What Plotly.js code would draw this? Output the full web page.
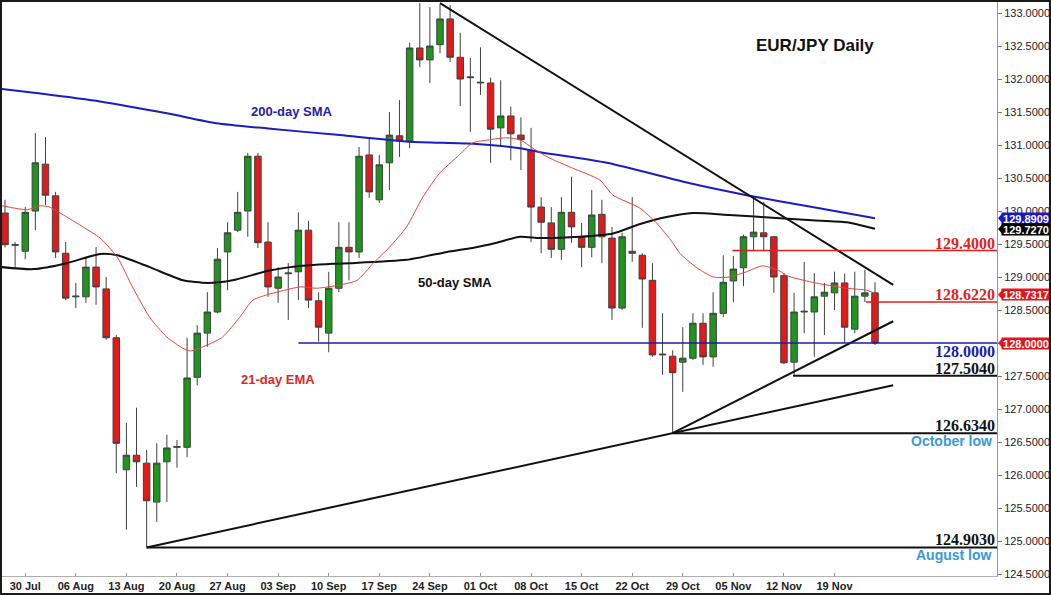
<!DOCTYPE html>
<html><head><meta charset="utf-8">
<script src="https://cdn.plot.ly/plotly-3.0.1.min.js"></script>
<style>
html,body{margin:0;padding:0;background:#fff;}
#chart{width:1047px;height:591px;border:2px solid #1a1a1a;}
</style></head><body><div id="chart"></div>
<script>
// ---- data ----
const dateLabels = ['30 Jul','06 Aug','13 Aug','20 Aug','27 Aug','03 Sep','10 Sep','17 Sep','24 Sep','01 Oct','08 Oct','15 Oct','22 Oct','29 Oct','05 Nov','12 Nov','19 Nov'];
const tickIdx = [2,7,12,17,22,27,32,37,42,47,52,57,62,67,72,77,82];
const yTicks = [124.5,125,125.5,126,126.5,127,127.5,128,128.5,129,129.5,130,130.5,131,131.5,132,132.5,133];

const open  = [129.97,129.48,129.39,130.00,130.71,130.23,129.36,128.70,128.70,129.15,128.82,128.08,126.08,126.30,126.18,125.59,126.20,126.42,126.42,127.48,128.15,128.47,129.38,129.71,130.00,130.83,129.53,128.83,129.05,129.08,129.71,128.64,128.15,128.83,129.45,129.38,130.85,130.17,130.73,131.14,131.05,132.47,132.29,132.52,132.91,132.33,132.02,131.94,131.94,131.26,131.44,131.15,130.92,130.06,129.82,129.42,129.98,129.61,129.45,129.95,129.59,128.53,129.39,129.33,128.95,127.82,127.80,127.71,127.77,128.30,127.79,128.45,128.94,129.14,129.61,129.67,129.61,129.02,127.71,128.47,128.47,128.71,128.76,128.91,128.21,128.71,128.76];
const high  = [130.17,129.53,130.06,131.18,131.12,130.29,129.53,128.91,129.30,129.45,129.00,128.12,126.79,127.02,126.38,126.48,126.61,126.53,128.08,128.27,128.77,129.44,129.83,130.29,130.88,130.88,129.83,129.15,129.21,129.98,129.85,128.77,129.08,129.83,129.83,130.97,131.12,130.85,131.50,131.68,132.55,133.15,133.09,133.13,133.12,132.70,132.32,132.48,132.02,131.98,131.58,131.42,131.26,130.21,130.06,130.21,130.52,129.82,130.32,130.17,129.76,129.67,130.21,129.36,129.21,128.45,127.89,128.24,128.45,128.45,128.77,129.33,129.32,129.64,130.20,130.14,129.62,129.06,128.76,129.23,129.06,128.91,129.08,129.05,129.08,129.11,128.92];
const low   = [129.45,129.15,129.27,129.71,130.09,129.29,128.65,128.53,128.61,128.58,128.05,126.03,125.17,125.82,124.903,125.29,125.59,126.11,126.27,127.36,127.94,128.45,128.80,129.68,129.61,129.44,128.70,128.61,128.35,128.65,128.53,128.02,127.86,128.77,128.95,129.29,130.20,130.12,130.32,130.82,130.95,132.18,131.94,132.39,132.26,131.59,131.20,131.76,130.73,130.97,130.77,130.62,129.53,129.36,129.29,129.26,129.52,129.15,129.30,129.21,128.35,128.50,129.23,128.23,127.79,127.52,126.634,127.26,127.74,127.67,127.64,128.39,128.62,128.86,129.39,129.39,128.76,127.68,127.504,128.15,127.79,128.12,128.50,128.00,128.15,128.62,127.97];
const close = [129.49,129.49,129.98,130.73,130.24,129.38,128.68,128.71,129.15,128.85,128.08,126.48,126.30,126.20,125.61,126.18,126.41,126.43,127.47,128.15,128.47,129.27,129.67,129.98,130.83,129.52,128.85,129.00,129.06,129.71,128.65,128.24,128.83,129.45,129.38,130.83,130.29,130.70,131.15,131.06,132.47,132.29,132.50,132.91,132.33,132.00,132.03,131.95,131.24,131.44,131.17,131.08,130.06,129.83,129.42,129.98,129.76,129.45,129.94,129.61,128.53,129.61,129.36,128.97,127.82,127.83,127.55,127.77,128.30,127.79,128.45,128.92,129.12,129.61,129.68,129.61,129.00,127.70,128.47,128.48,128.70,128.77,128.91,128.24,128.71,128.76,128.00];

const sma200X = [-0.3,3.5,9.4,16,20.9,26,33.1,40,46.3,50.9,52.9,59.5,67.7,73.3,79.8,86];
const sma200  = [131.85,131.78,131.66,131.48,131.33,131.25,131.15,131.05,131.02,130.95,130.89,130.73,130.42,130.24,130.06,129.89];
const sma50X  = [-0.3,2.8,6.1,9.4,11.1,14.3,17.6,20,22.5,25.9,28.2,32.4,34.1,39.7,43.7,46.2,48.6,50.9,52.9,56.8,60.1,62.7,65.4,68,71.6,76.6,79.8,83.2,86];
const sma50   = [129.15,129.12,129.21,129.35,129.33,129.15,128.95,128.91,128.95,129.09,129.15,129.20,129.21,129.26,129.38,129.44,129.52,129.61,129.59,129.61,129.66,129.80,129.91,129.97,129.94,129.89,129.86,129.83,129.73];
const ema21X  = [-0.3,2.2,3.5,4.4,6.1,7.7,9.4,11.1,12.6,14.3,16,17.6,18.3,20,21.5,23.2,24.5,25.9,29.2,30.8,33.1,34.8,36.4,38,39.7,41.3,43,44.7,46.2,47.9,49.6,50.9,52.2,53.6,56.1,58.8,60.1,62.7,64.4,66,66.7,68.4,70,71.6,73.3,74.9,76.6,77.3,79.8,83.2,85.2,86];
const ema21   = [130.08,130.02,130.08,130.06,129.91,129.76,129.59,129.30,128.85,128.39,128.09,127.92,127.88,127.97,128.09,128.39,128.65,128.73,128.85,128.83,128.88,128.95,129.21,129.45,129.76,130.21,130.58,130.82,131.03,131.08,131.11,131.08,130.95,130.82,130.65,130.47,130.24,130.05,129.82,129.52,129.36,129.14,129.00,129.00,129.08,129.17,129.09,129.02,128.92,128.83,128.80,128.75];

// trend lines (start/end in candle index and price)
const trendDownX = [43, 87.8], trendDownY = [133.15, 128.88];
const trendUpLongX = [14, 87.8], trendUpLongY = [124.903, 127.36];
const trendUpShortX = [66, 87.8], trendUpShortY = [126.634, 128.33];

// horizontal levels
const levelValues = [129.4, 128.622, 128.0, 127.504, 126.634, 124.903];
const levelStart  = [71.9, 85.1, 29, 77.9, 66, 14];
const levelLabels = ['129.4000','128.6220','128.0000','127.5040','126.6340','124.9030'];
const levelNotes  = ['', '', '', '', 'October low', 'August low'];

// right-axis value tags
const tagValues = [129.8909, 129.7270, 128.7317, 128.0000];

// ---- styling ----
const SANS = 'Liberation Sans, Arial, sans-serif';
const SERIF = 'Liberation Serif, Times New Roman, serif';
const X_RANGE = [-0.297, 98.06];
const Y_RANGE = [124.470, 133.167];
const levelColors = ['#e11f1f','#e11f1f','#1c1caa','#111','#111','#111'];
const levelWidths = [1.5,1.5,1.5,2,2,2];
const labelAbove  = [true,true,false,true,true,true];
const tagColors = ['#1818c8','#000000','#e3141c','#e3141c'];

const idx = open.map((_, i) => i);

const traces = [
  {type:'scatter', mode:'lines', x:sma200X, y:sma200, line:{color:'#1c1cc4', width:2, shape:'spline', smoothing:0.6}, hoverinfo:'skip'},
  {type:'scatter', mode:'lines', x:sma50X, y:sma50, line:{color:'#111', width:2, shape:'spline', smoothing:0.6}, hoverinfo:'skip'},
  {type:'scatter', mode:'lines', x:ema21X, y:ema21, line:{color:'#e8453c', width:1, shape:'spline', smoothing:0.6}, hoverinfo:'skip'},
  {type:'candlestick', x:idx, open:open, high:high, low:low, close:close,
   increasing:{line:{color:'#404040', width:1}, fillcolor:'#1e961e'},
   decreasing:{line:{color:'#404040', width:1}, fillcolor:'#e11a1a'},
   whiskerwidth:0, hoverinfo:'skip'},
  {type:'scatter', mode:'lines', x:trendDownX, y:trendDownY, line:{color:'#111', width:2}, hoverinfo:'skip'},
  {type:'scatter', mode:'lines', x:trendUpLongX, y:trendUpLongY, line:{color:'#111', width:2}, hoverinfo:'skip'},
  {type:'scatter', mode:'lines', x:trendUpShortX, y:trendUpShortY, line:{color:'#111', width:2}, hoverinfo:'skip'}
];

const shapes = [];
const annotations = [];
levelValues.forEach((v, k) => {
  shapes.push({type:'line', xref:'x', yref:'y', x0:levelStart[k], x1:X_RANGE[1], y0:v, y1:v,
               line:{color:levelColors[k], width:levelWidths[k]}});
  annotations.push({xref:'paper', yref:'y', x:1, y:v, xanchor:'right',
    yanchor: labelAbove[k] ? 'bottom' : 'top', yshift: labelAbove[k] ? -3 : 2,
    text:'<b>' + levelLabels[k] + '</b>', showarrow:false,
    font:{family:SERIF, size:16, color:levelColors[k]}});
  if (levelNotes[k]) {
    annotations.push({xref:'paper', yref:'y', x:1, y:v, xanchor:'right', yanchor:'top', xshift:-3, yshift:2,
      text:'<b>' + levelNotes[k] + '</b>', showarrow:false,
      font:{family:SANS, size:14, color:'#3a98dc'}});
  }
});

const pxX = 1 / 995;
tagValues.forEach((v, k) => {
  annotations.push({xref:'paper', yref:'y', x:1, y:v, xanchor:'left', yanchor:'middle', xshift:4,
    text:'<b>' + v.toFixed(4) + '</b>', showarrow:false, bgcolor:tagColors[k],
    width:48, height:11, borderpad:0,
    font:{family:SANS, size:11, color:'#fff'}});
  shapes.push({type:'path', xref:'paper', yref:'y',
    path:`M ${1 + 1*pxX},${v} L ${1 + 6*pxX},${v + 0.085} L ${1 + 6*pxX},${v - 0.085} Z`,
    fillcolor:tagColors[k], line:{width:0}});
});

// chart labels
annotations.push(
  {xref:'x', yref:'y', x:80.1, y:132.515, text:'<b>EUR/JPY Daily</b>', showarrow:false, font:{family:SANS, size:17, color:'#111'}},
  {xref:'x', yref:'y', x:28.4, y:131.515, text:'<b>200-day SMA</b>', showarrow:false, font:{family:SANS, size:13, color:'#2222a8'}},
  {xref:'x', yref:'y', x:44.5, y:128.924, text:'<b>50-day SMA</b>', showarrow:false, font:{family:SANS, size:13, color:'#111'}},
  {xref:'x', yref:'y', x:27.0, y:127.44, text:'<b>21-day EMA</b>', showarrow:false, font:{family:SANS, size:13, color:'#e0282a'}}
);

const layout = {
  width:1047, height:591,
  margin:{l:0, r:52, t:0, b:17},
  paper_bgcolor:'#fff', plot_bgcolor:'#fff',
  showlegend:false,
  boxgap:0.2, boxgroupgap:0.2,
  xaxis:{range:X_RANGE, tickmode:'array', tickvals:tickIdx, ticktext:dateLabels,
    showgrid:false, zeroline:false, showline:true, linecolor:'#b0b0b0', linewidth:1,
    ticks:'inside', ticklen:3, tickcolor:'#999',
    tickfont:{family:SANS, size:11, color:'#222', weight:'bold'},
    rangeslider:{visible:false}, fixedrange:true},
  yaxis:{range:Y_RANGE, side:'right', tickmode:'array', tickvals:yTicks,
    ticktext:yTicks.map(v => v.toFixed(4)),
    showgrid:false, zeroline:false, showline:true, linecolor:'#999', linewidth:1,
    ticks:'outside', ticklen:4, tickcolor:'#777',
    tickfont:{family:SANS, size:11, color:'#222'}, fixedrange:true},
  shapes:shapes,
  annotations:annotations
};

Plotly.newPlot('chart', traces, layout, {displayModeBar:false, staticPlot:true});
</script>
</body></html>
